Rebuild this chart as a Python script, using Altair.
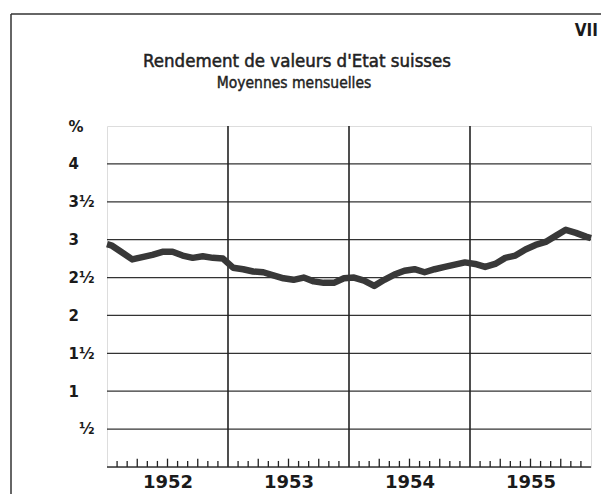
import altair as alt
import pandas as pd

# ---- data ----
years = ["1952", "1953", "1954", "1955"]
year_centers = [6, 18, 30, 42]
year_bounds = [12, 24, 36]
# monthly yields Jan 1952 .. Dec 1955 (%)
yields = [2.92, 2.83, 2.74, 2.77, 2.80, 2.84, 2.84, 2.79, 2.76, 2.78, 2.76, 2.75,
          2.63, 2.61, 2.58, 2.57, 2.53, 2.49, 2.47, 2.50, 2.45, 2.43, 2.43, 2.49,
          2.50, 2.46, 2.39, 2.47, 2.54, 2.59, 2.61, 2.57, 2.61, 2.64, 2.67, 2.70,
          2.68, 2.64, 2.68, 2.76, 2.79, 2.87, 2.93, 2.97, 3.05, 3.13, 3.09, 3.04]
start_value = 2.94   # value at left border (start of Jan 1952)
end_value = 3.02     # value at right border (end of Dec 1955)
y_ticks = [1, 1.5, 2, 2.5, 3, 3.5, 4, 4.5]
y_labels = ["1", "1½", "2", "2½", "3", "3½", "4", "%"]
half_tick = [0.5]
half_label = ["½"]
grid_values = [0, 0.5, 1, 1.5, 2, 2.5, 3, 3.5, 4]

title = "Rendement de valeurs d'Etat suisses"
subtitle = "Moyennes mensuelles"
plate = "VII"

# ---- tables ----
pos = [0.0] + [i + 0.5 for i in range(len(yields))] + [48.0]
vals = [start_value] + yields + [end_value]
line_df = pd.DataFrame({"m": pos, "v": vals})
tick_months = [i for i in range(1, 48) if i % 12 != 0]
ticks_df = pd.DataFrame({
    "m": tick_months,
    "base": [0.0] * len(tick_months),
    "len": [0.11 if (m % 3 == 0) else 0.08 for m in tick_months],
})
bounds_df = pd.DataFrame({"m": year_bounds})
grid_df = pd.DataFrame({"g": grid_values})
half_df = pd.DataFrame({"g": half_tick, "t": half_label})

label_expr = ""
for t, l in zip(y_ticks, y_labels):
    label_expr += f"datum.value == {t} ? '{l}' : "
label_expr += "''"
x_label_expr = ""
for c, y in zip(year_centers, years):
    x_label_expr += f"datum.value == {c} ? '{y}' : "
x_label_expr += "''"

W, H = 484, 341
xs = alt.Scale(domain=[0, 48], nice=False, zero=False)
ys = alt.Scale(domain=[0, 4.5], nice=False, zero=True)
INK = "#1a1a1a"

grid = alt.Chart(grid_df).mark_rule(color="#333333", strokeWidth=1.3).encode(
    y=alt.Y("g:Q", scale=ys, axis=alt.Axis(
        values=y_ticks, labelExpr=label_expr, title=None, grid=False,
        ticks=False, domain=False, labelOverlap=False,
        labelAlign="left", labelBaseline="middle", labelPadding=39,
        labelFont="DejaVu Sans", labelFontWeight="bold", labelFontSize=15,
        labelColor=INK))
)

half_txt = alt.Chart(half_df).mark_text(
    font="DejaVu Sans", fontWeight="bold", fontSize=15, align="left",
    baseline="middle", color=INK
).encode(y=alt.Y("g:Q", scale=ys), x=alt.value(-28), text="t:N")

line = alt.Chart(line_df).mark_line(
    color="#383838", strokeWidth=6.5, strokeJoin="round", strokeCap="butt"
).encode(
    x=alt.X("m:Q", scale=xs, axis=alt.Axis(
        values=year_centers, labelExpr=x_label_expr, title=None, grid=False,
        ticks=False, domain=False, labelFont="DejaVu Sans", labelFontWeight="bold",
        labelFontSize=18, labelColor=INK, labelPadding=6)),
    y=alt.Y("v:Q", scale=ys),
)

bounds = alt.Chart(bounds_df).mark_rule(color="#222", strokeWidth=1.6).encode(
    x=alt.X("m:Q", scale=xs)
)

ticks = alt.Chart(ticks_df).mark_rule(color="#222", strokeWidth=1.3).encode(
    x=alt.X("m:Q", scale=xs),
    y=alt.Y("base:Q", scale=ys),
    y2=alt.Y2("len:Q"),
)

frame_df = pd.DataFrame({"a": [0]})
frame_top = alt.Chart(frame_df).mark_rule(color="#333", strokeWidth=1.5).encode(
    x=alt.value(-96), x2=alt.value(W + 20), y=alt.value(-112)
)
frame_left = alt.Chart(frame_df).mark_rule(color="#333", strokeWidth=1.5).encode(
    x=alt.value(-96), y=alt.value(-112), y2=alt.value(H + 40)
)
plate_txt = alt.Chart(pd.DataFrame({"t": [plate]})).mark_text(
    font="DejaVu Sans Condensed", fontSize=17, fontWeight="bold", align="right",
    baseline="alphabetic", color=INK
).encode(text="t:N", x=alt.value(W + 7), y=alt.value(-90))
title_txt = alt.Chart(pd.DataFrame({"t": [title]})).mark_text(
    font="DejaVu Sans Condensed", fontSize=18.5, align="center",
    baseline="alphabetic", color="#222222", stroke="#222222", strokeWidth=0.5
).encode(text="t:N", x=alt.value(190), y=alt.value(-59))
subtitle_txt = alt.Chart(pd.DataFrame({"t": [subtitle]})).mark_text(
    font="DejaVu Sans Condensed", fontSize=15.5, align="center",
    baseline="alphabetic", color="#222222", stroke="#222222", strokeWidth=0.4
).encode(text="t:N", x=alt.value(187), y=alt.value(-38))

chart = alt.layer(grid, half_txt, frame_top, frame_left, bounds, ticks, line,
                  plate_txt, title_txt, subtitle_txt).properties(
    width=W, height=H,
    autosize=alt.AutoSizeParams(type="none"),
    padding={"left": 99, "top": 118, "right": 10, "bottom": 27},
).configure_view(stroke=INK, strokeWidth=2).configure(background="white")

chart.save("out.html", embed_options={"renderer": "svg", "actions": False})
